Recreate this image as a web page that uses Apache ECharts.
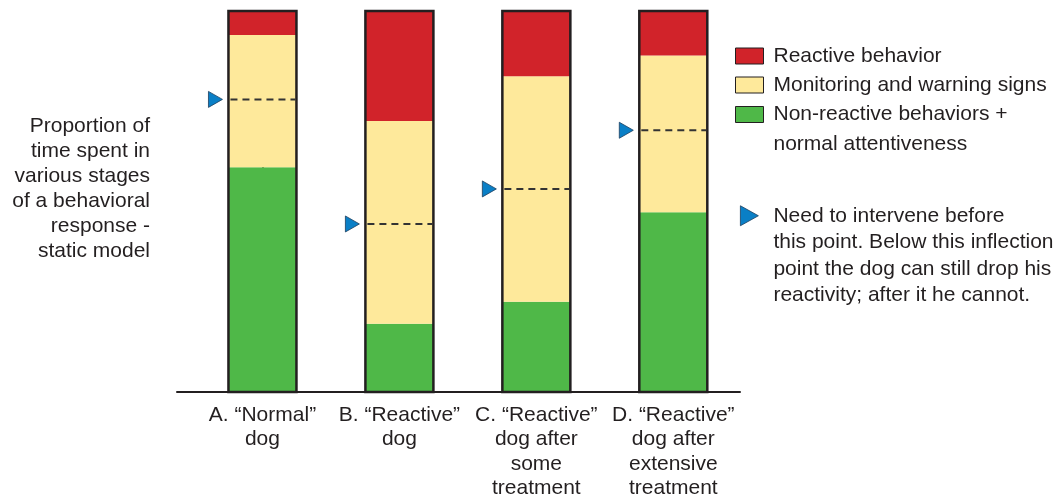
<!DOCTYPE html>
<html>
<head>
<meta charset="utf-8">
<script src="https://cdn.jsdelivr.net/npm/echarts@6/dist/echarts.min.js"></script>
<style>html,body{margin:0;padding:0;background:#fff}#c{width:1059px;height:504px}</style>
</head>
<body>
<div id="c"></div>
<script>
const categories = ['A. \u201cNormal\u201d\ndog', 'B. \u201cReactive\u201d\ndog', 'C. \u201cReactive\u201d\ndog after\nsome\ntreatment', 'D. \u201cReactive\u201d\ndog after\nextensive\ntreatment'];
const nonReactive = [0.590, 0.179, 0.237, 0.472];
const monitoring = [0.347, 0.532, 0.592, 0.411];
const reactive = [0.063, 0.289, 0.171, 0.117];
const inflection = [0.768, 0.441, 0.533, 0.687];
const seriesNames = ['Reactive behavior', 'Monitoring and warning signs', 'Non-reactive behaviors +', 'Need to intervene before'];

const INK = '#231f20';
const FONT = '"Liberation Sans", Arial, Helvetica, sans-serif';
const RED = '#d1232a', YEL = '#fee99b', GRN = '#4fb848', BLUE = '#0a7fc6';

const idx = categories.map((_, i) => i);
// value first, category index second (so stacking happens on the value dimension)
const toPts = arr => arr.map((v, i) => [v, i]);

const chart = echarts.init(document.getElementById('c'), null, {renderer: 'canvas'});
const barBase = {type: 'bar', stack: 's', barWidth: 68, encode: {x: 1, y: 0}};
const option = {
  animation: false,
  grid: {left: 177, right: 319, top: 11, bottom: 112},
  xAxis: {
    type: 'value', min: -0.624, max: 3.487,
    splitLine: {show: false},
    axisTick: {show: false},
    axisLine: {show: true, lineStyle: {color: INK, width: 2}},
    axisLabel: {
      customValues: idx,
      formatter: v => categories[Math.round(v)],
      color: INK, fontFamily: FONT, fontSize: 21, lineHeight: 24.3, margin: 11,
      align: 'center', verticalAlign: 'top'
    }
  },
  yAxis: {
    type: 'value', min: 0, max: 1,
    splitLine: {show: false},
    axisTick: {show: false},
    axisLabel: {show: false},
    axisLine: {show: true, lineStyle: {color: INK, width: 2}},
    name: 'Proportion of\ntime spent in\nvarious stages\nof a behavioral\nresponse -\nstatic model\n',
    nameLocation: 'middle', nameRotate: 0, nameGap: 27,
    nameTextStyle: {color: INK, fontFamily: FONT, fontSize: 21, lineHeight: 25, align: 'right', verticalAlign: 'middle', padding: [0, 0, 4, 0]}
  },
  legend: [
    {
      data: [seriesNames[0], seriesNames[1]], orient: 'vertical', left: 735, top: 41.5, padding: 0,
      itemWidth: 28, itemHeight: 16, itemGap: 0, icon: 'rect',
      itemStyle: {borderColor: INK, borderWidth: 1},
      textStyle: {color: INK, fontFamily: FONT, fontSize: 21, lineHeight: 29, padding: [0, 0, 0, 5]},
      selectedMode: false
    },
    {
      data: [seriesNames[2]], orient: 'vertical', left: 735, top: 69.5, padding: 0,
      itemWidth: 28, itemHeight: 16, icon: 'rect',
      itemStyle: {borderColor: INK, borderWidth: 1},
      formatter: () => '\nNon-reactive behaviors +\nnormal attentiveness',
      textStyle: {color: INK, fontFamily: FONT, fontSize: 21, lineHeight: 30, padding: [0, 0, 0, 5]},
      selectedMode: false
    },
    {
      data: [seriesNames[3]], orient: 'vertical', left: 740, top: 123, padding: 0,
      itemWidth: 18, itemHeight: 20, icon: 'path://M0,0L18,10L0,20Z',
      itemStyle: {color: BLUE, borderColor: '#1d3f5e', borderWidth: 0.8},
      formatter: () => '\n\n\nNeed to intervene before\nthis point. Below this inflection\npoint the dog can still drop his\nreactivity; after it he cannot.',
      textStyle: {color: INK, fontFamily: FONT, fontSize: 21, lineHeight: 26.5, padding: [0, 0, 0, 10]},
      selectedMode: false
    }
  ],
  series: [
    Object.assign({name: seriesNames[2], data: toPts(nonReactive), itemStyle: {color: GRN}}, barBase),
    Object.assign({name: seriesNames[1], data: toPts(monitoring), itemStyle: {color: YEL}}, barBase),
    Object.assign({name: seriesNames[0], data: toPts(reactive), itemStyle: {color: RED}}, barBase),
    {
      name: 'outline', type: 'custom', data: idx.map(i => [i, 1]), z: 5, silent: true,
      renderItem: (params, api) => {
        const x = api.value(0);
        const t = api.coord([x, api.value(1)]);
        const b = api.coord([x, 0]);
        const hw = 34;
        return {type: 'rect', shape: {x: t[0] - hw, y: t[1], width: hw * 2, height: b[1] - t[1]},
          style: {fill: 'none', stroke: INK, lineWidth: 2.5}};
      }
    },
    {
      name: seriesNames[3], type: 'custom', data: inflection.map((v, i) => [i, v]), z: 6, silent: true,
      itemStyle: {color: BLUE},
      renderItem: (params, api) => {
        const x = api.value(0);
        const p = api.coord([x, api.value(1)]);
        const hw = 34;
        return {type: 'group', children: [
          {type: 'line', shape: {x1: p[0] - hw + 2, y1: p[1], x2: p[0] + hw - 1, y2: p[1]},
            style: {stroke: '#333', lineWidth: 2, lineDash: [7, 5]}},
          {type: 'polygon', shape: {points: [[p[0] - hw - 20, p[1] - 8], [p[0] - hw - 20, p[1] + 8], [p[0] - hw - 6, p[1]]]},
            style: {fill: BLUE, stroke: '#1d3f5e', lineWidth: 0.8}}
        ]};
      }
    }
  ]
};
chart.setOption(option);
</script>
</body>
</html>
